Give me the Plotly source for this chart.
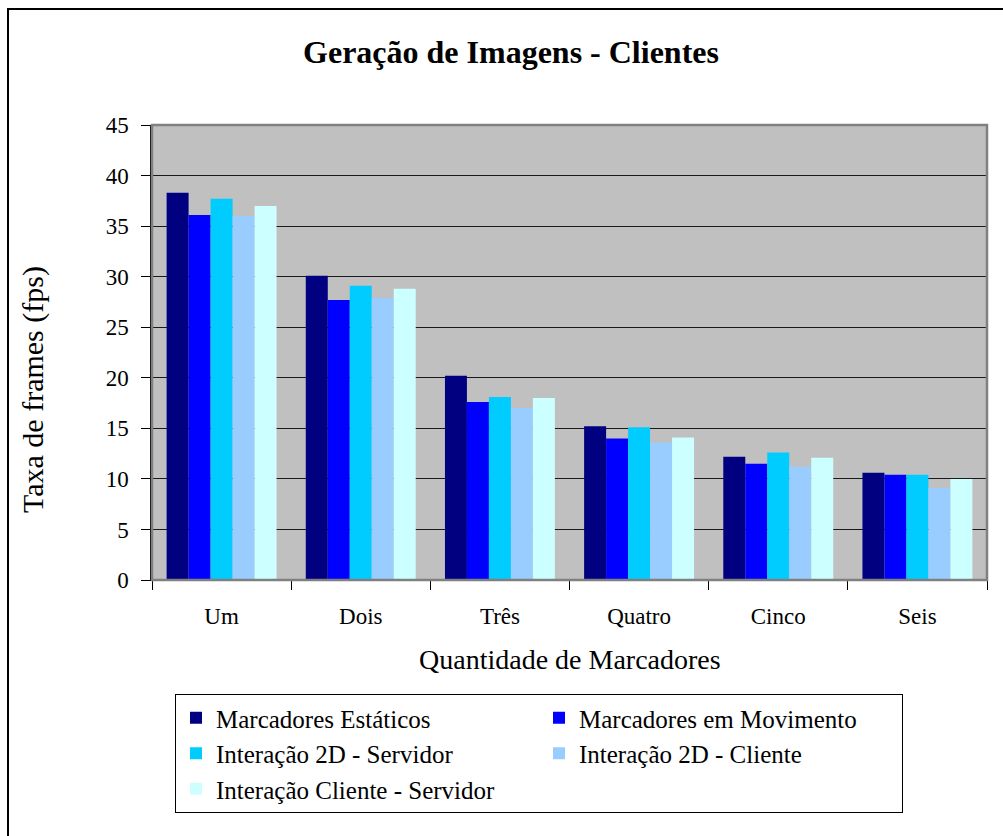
import plotly.graph_objects as go

# Number of markers shown per group
categorias = ["Um", "Dois", "Três", "Quatro", "Cinco", "Seis"]

# Frame rates (fps) per scenario
estaticos = [38.3, 30.1, 20.2, 15.2, 12.2, 10.6]
movimento = [36.1, 27.7, 17.6, 14.0, 11.5, 10.4]
interacao_2d_servidor = [37.7, 29.1, 18.1, 15.1, 12.6, 10.4]
interacao_2d_cliente = [36.0, 27.9, 17.0, 13.6, 11.2, 9.1]
interacao_cliente_servidor = [37.0, 28.8, 18.0, 14.1, 12.1, 10.0]

series = [
    ("Marcadores Estáticos", estaticos, "#000080"),
    ("Marcadores em Movimento", movimento, "#0000FF"),
    ("Interação 2D - Servidor", interacao_2d_servidor, "#00CCFF"),
    ("Interação 2D - Cliente", interacao_2d_cliente, "#99CCFF"),
    ("Interação Cliente - Servidor", interacao_cliente_servidor, "#CCFFFF"),
]

FONT = '"Liberation Serif", "Times New Roman", serif'

fig = go.Figure()
for nome, valores, cor in series:
    fig.add_trace(go.Bar(
        x=categorias, y=valores, name=nome,
        marker=dict(color=cor, line=dict(width=0)),
    ))

W, H = 1003, 836
L, R, T, B = 152, 16, 125, 256
pw, ph = W - L - R, H - T - B

fig.update_layout(
    width=W, height=H,
    margin=dict(l=L, r=R, t=T, b=B),
    paper_bgcolor="white",
    plot_bgcolor="#C0C0C0",
    barmode="group",
    bargap=0.21,
    bargroupgap=0,
    font=dict(family=FONT, color="black", size=23),
    title=dict(
        text="<b>Geração de Imagens - Clientes</b>",
        font=dict(family=FONT, size=32, color="black"),
        xref="container", yref="container",
        x=511 / W, y=1 - 52 / H, xanchor="center", yanchor="middle",
    ),
    showlegend=True,
    legend=dict(
        orientation="h",
        x=(175 - L) / pw, y=-(694 - (T + ph)) / ph,
        xanchor="left", yanchor="top",
        bgcolor="white", bordercolor="black", borderwidth=1,
        font=dict(family=FONT, size=25, color="black"),
        entrywidth=318,
        traceorder="normal",
    ),
    xaxis=dict(
        type="category",
        showline=True, linecolor="black", linewidth=1,
        ticks="outside", tickson="boundaries", ticklen=9, tickcolor="black",
        tickfont=dict(family=FONT, size=23),
        ticklabelstandoff=15,
        showgrid=False, mirror=False,
    ),
    yaxis=dict(
        range=[0, 45], dtick=5, tick0=0,
        showline=True, linecolor="black", linewidth=1.5,
        ticks="outside", ticklen=9, tickcolor="black",
        tickfont=dict(family=FONT, size=23),
        ticklabelstandoff=8,
        showgrid=True, gridcolor="#1a1a1a", gridwidth=1,
        zeroline=False,
    ),
)

# Axis titles
fig.add_annotation(
    text="Quantidade de Marcadores", xref="paper", yref="paper",
    x=(570 - L) / pw, y=-(659 - (T + ph)) / ph,
    xanchor="center", yanchor="middle", showarrow=False,
    font=dict(family=FONT, size=28),
)
fig.add_annotation(
    text="Taxa de frames (fps)", xref="paper", yref="paper",
    x=(33 - L) / pw, y=(T + ph - 390) / ph,
    xanchor="center", yanchor="middle", textangle=-90, showarrow=False,
    font=dict(family=FONT, size=30),
)

# Gray border around the plot area
fig.add_shape(
    type="rect", xref="paper", yref="paper", x0=0, x1=1, y0=0, y1=1,
    line=dict(color="#808080", width=2.5), layer="above",
)
# Outer chart frame (top and left edges)
fig.add_shape(
    type="path", xref="paper", yref="paper",
    path=f"M {(8 - L) / pw},{-(H + 10 - (T + ph)) / ph} "
         f"L {(8 - L) / pw},{(T + ph - 9) / ph} "
         f"L {(W + 10 - L) / pw},{(T + ph - 9) / ph}",
    line=dict(color="black", width=2),
)

fig.write_html("out.html")
